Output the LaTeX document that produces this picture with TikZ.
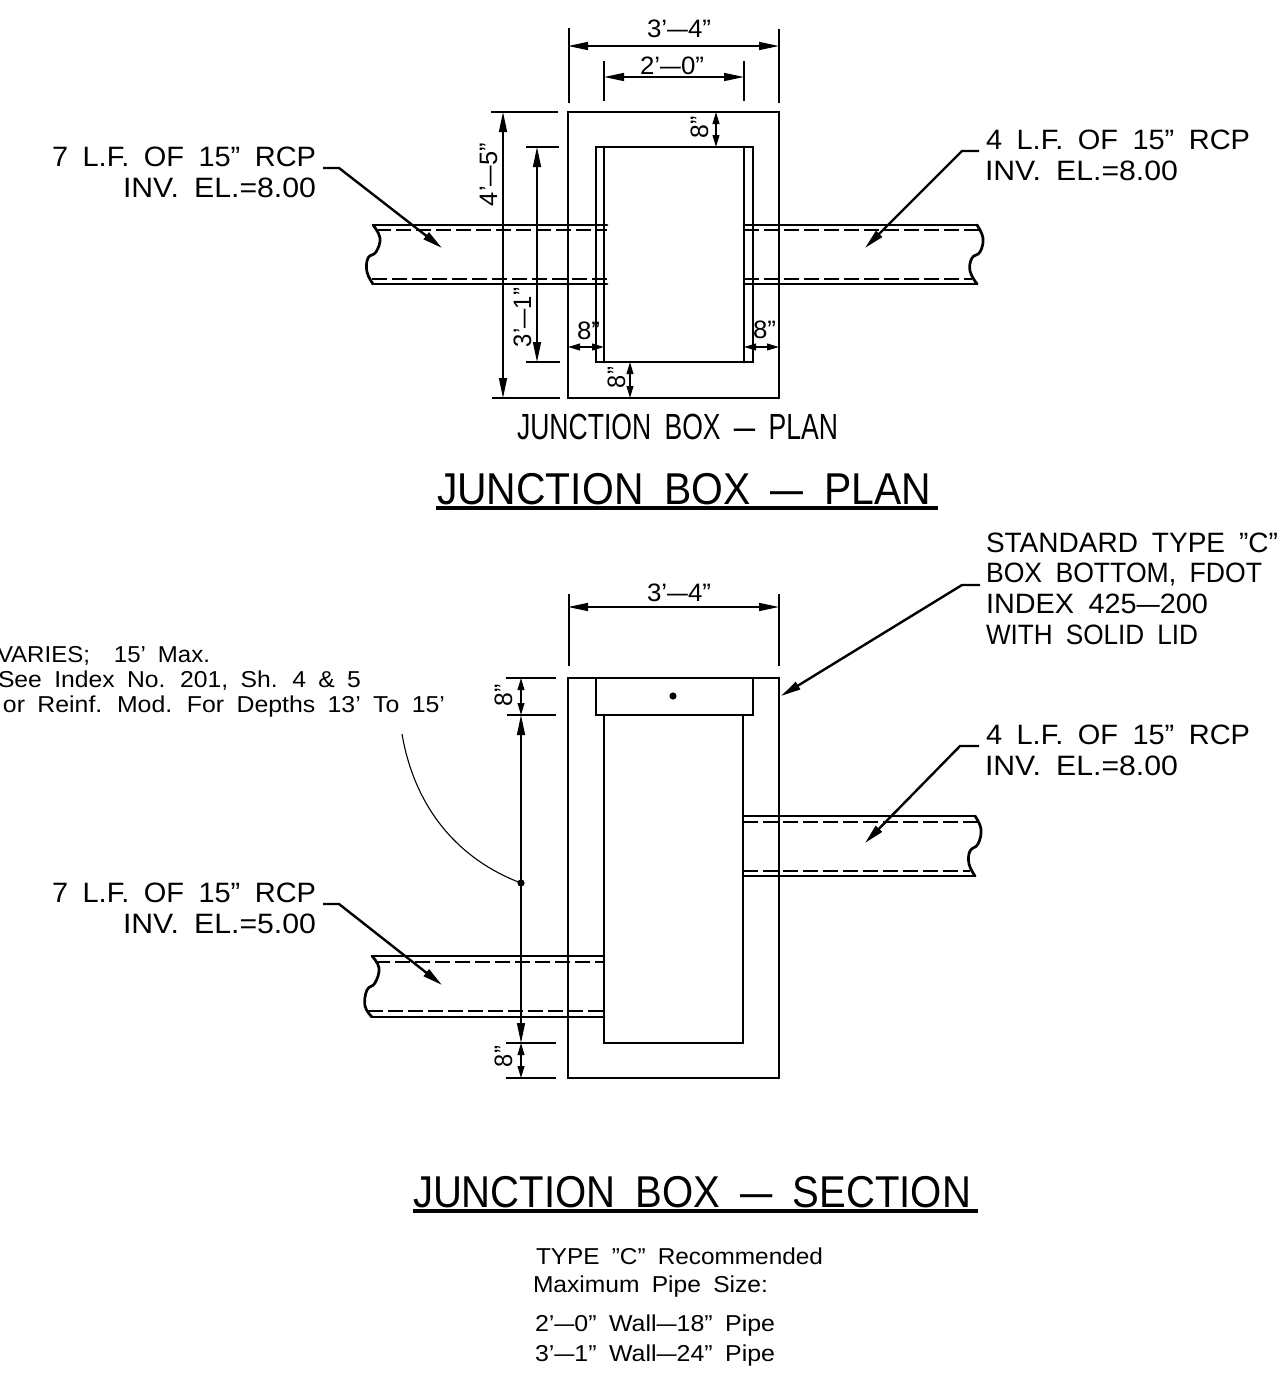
\documentclass[tikz,border=0pt]{standalone}
\usepackage{graphicx}
\usepackage{fontspec}
\setmainfont{Liberation Sans}
\usetikzlibrary{arrows.meta}
\newdimen\pxu \pxu=0.5pt
\newcommand\dsh{\scalebox{1.45}[1]{–}}
\newcommand\lbl[7][0]{\node[lab,rotate=#1] (#2) at (#3,#4) {\fontsize{#6}{#6}\selectfont\resizebox{#5\pxu}{\height}{\spaceskip=0.5em\relax #7}};}
\tikzset{
  lab/.style={anchor=base west,inner sep=0pt,outer sep=0pt},
  thick line/.style={line width=1.35pt,line cap=round,line join=miter},
  thin line/.style={line width=0.7pt},
  hidden/.style={line width=1.35pt,dash pattern=on 7.5pt off 2.5pt},
  dimbig/.style={thin line,{Triangle[length=10pt,width=4pt]}-{Triangle[length=10pt,width=4pt]}},
  dimsmall/.style={thin line,{Triangle[length=6pt,width=3.4pt]}-{Triangle[length=6pt,width=3.4pt]}},
  leader/.style={line width=1.2pt,-{Triangle[length=10pt,width=4.2pt]}},
  blob/.style={circle,fill=black,inner sep=0pt,minimum size=3.6pt},
}
\begin{document}
\begin{tikzpicture}[x=0.5pt,y=-0.5pt]
\useasboundingbox (0,0) rectangle (1281,1383);
\fill[white] (0,0) rectangle (1281,1383);

% ---------- PLAN ----------
\draw[thick line] (568,112) rectangle (779,398);
\draw[thick line] (596,147) rectangle (753,362);
\draw[thick line] (604,147) -- (604,362);
\draw[thick line] (744,147) -- (744,362);
% pipes
\draw[thick line] (373,225) -- (607,225);
\draw[thick line] (373,284) -- (607,284);
\draw[hidden] (376,230) -- (607,230);
\draw[hidden] (372,279) -- (607,279);
\draw[thick line] plot[smooth,tension=.7] coordinates {(373,225) (380,238) (376,252) (368,258) (367,272) (373,284)};
\draw[thick line] (744,225) -- (977,225);
\draw[thick line] (744,284) -- (977,284);
\draw[hidden] (744,230) -- (981,230);
\draw[hidden] (744,279) -- (972,279);
\draw[thick line] plot[smooth,tension=.7] coordinates {(977,225) (983,238) (980,252) (972,258) (970,271) (977,284)};
% extension lines
\draw[thin line] (569,28) -- (569,103);
\draw[thin line] (779,29) -- (779,103);
\draw[thin line] (604,61) -- (604,101);
\draw[thin line] (744,61) -- (744,101);
\draw[thin line] (491,112) -- (558,112);
\draw[thin line] (492,398) -- (560,398);
\draw[thin line] (526,147) -- (559,147);
\draw[thin line] (526,362) -- (560,362);
% dimensions
\draw[dimbig] (568,46) -- (779,46);
\draw[dimbig] (604,77) -- (744,77);
\draw[dimbig] (503,112) -- (503,398);
\draw[dimbig] (537,147) -- (537,362);
\draw[dimsmall] (716,112) -- (716,147);
\draw[dimsmall] (630,362) -- (630,398);
\draw[dimsmall] (568,347) -- (604,347);
\draw[dimsmall] (744,347) -- (779,347);
\lbl{d1}{647}{37}{64}{12.6}{3’\dsh 4”}
\lbl{d2}{640}{74}{64}{12.6}{2’\dsh 0”}
\lbl[90]{d3}{497}{206}{63}{12.6}{4’\dsh 5”}
\lbl[90]{d4}{531}{347}{59}{12.6}{3’\dsh 1”}
\lbl[90]{d5}{708}{138}{22}{12.6}{8”}
\lbl[90]{d6}{625}{388}{21}{12.6}{8”}
\lbl{d7}{577}{339}{23}{12.6}{8”}
\lbl{d8}{753}{338}{23}{12.6}{8”}
% labels and leaders
\lbl{a1}{52}{166}{264}{14}{7 L.F. OF 15” RCP}
\lbl{a2}{123}{197}{193}{14}{INV. EL.=8.00}
\lbl{b1}{986}{149}{264}{14}{4 L.F. OF 15” RCP}
\lbl{b2}{985}{180}{193}{14}{INV. EL.=8.00}
\coordinate (a0) at (323,168);
\coordinate (a3) at (339,168);
\coordinate (a4) at (442,248);
\coordinate (b0) at (979,151);
\coordinate (b3) at (962,151);
\coordinate (b4) at (865,248);
\draw[leader] (a0) -- (a3) -- (a4);
\draw[leader] (b0) -- (b3) -- (b4);
\lbl{t1}{517}{439}{321}{18.2}{JUNCTION BOX \dsh\ PLAN}
\lbl{t2}{437}{504}{494}{22.3}{JUNCTION BOX \dsh\ PLAN}
\draw[line width=1.8pt] (436,508) -- (938,508);

% ---------- SECTION ----------
\draw[thick line] (568,678) rectangle (779,1078);
\draw[thick line] (596,678) rectangle (753,715);
\draw[thick line] (604,715) -- (604,1043) -- (743,1043) -- (743,715);
\node[blob] (s1) at (673,696) {};
% pipes
\draw[thick line] (372,956) -- (604,956);
\draw[thick line] (372,1017) -- (604,1017);
\draw[hidden] (375,962) -- (604,962);
\draw[hidden] (368,1011) -- (604,1011);
\draw[thick line] plot[smooth,tension=.7] coordinates {(372,956) (379,968) (375,983) (367,990) (365,1006) (372,1017)};
\draw[thick line] (743,816) -- (975,816);
\draw[thick line] (743,876) -- (975,876);
\draw[hidden] (743,822) -- (979,822);
\draw[hidden] (743,871) -- (970,871);
\draw[thick line] plot[smooth,tension=.7] coordinates {(975,816) (981,829) (978,844) (970,851) (969,864) (975,876)};
% extension lines
\draw[thin line] (569,594) -- (569,666);
\draw[thin line] (779,594) -- (779,666);
\draw[thin line] (506,678) -- (556,678);
\draw[thin line] (507,715) -- (556,715);
\draw[thin line] (506,1043) -- (556,1043);
\draw[thin line] (506,1078) -- (556,1078);
% dimensions
\draw[dimbig] (568,607) -- (779,607);
\draw[dimsmall] (521,678) -- (521,715);
\draw[dimbig] (521,715) -- (521,1043);
\draw[dimsmall] (521,1043) -- (521,1078);
\lbl{d9}{647}{601}{64}{12.6}{3’\dsh 4”}
\lbl[90]{d10}{512}{706}{22}{12.6}{8”}
\lbl[90]{d11}{512}{1067}{21}{12.6}{8”}
% arc note
\node[blob] (s2) at (521,883) {};
\coordinate (n0) at (402,734);
\draw[line width=0.55pt] (n0) .. controls (415,810) and (460,860) .. (s2.center);
\lbl{n1}{-3}{662}{213}{11.5}{VARIES; \ 15’ Max.}
\lbl{n2}{-2}{687}{363}{11.5}{See Index No. 201, Sh. 4 \& 5}
\lbl{n3}{3}{712}{442}{11.5}{or Reinf. Mod. For Depths 13’ To 15’}
% labels and leaders
\lbl{c1}{52}{902}{264}{14}{7 L.F. OF 15” RCP}
\lbl{c2}{123}{933}{193}{14}{INV. EL.=5.00}
\lbl{e1}{986}{744}{264}{14}{4 L.F. OF 15” RCP}
\lbl{e2}{985}{775}{193}{14}{INV. EL.=8.00}
\coordinate (c0) at (323,904);
\coordinate (c3) at (339,904);
\coordinate (c4) at (442,985);
\coordinate (e0) at (979,746);
\coordinate (e3) at (960,746);
\coordinate (e4) at (865,843);
\draw[leader] (c0) -- (c3) -- (c4);
\draw[leader] (e0) -- (e3) -- (e4);
\lbl{f1}{986}{552}{292}{14}{STANDARD TYPE ”C”}
\lbl{f2}{986}{582}{276}{14}{BOX BOTTOM, FDOT}
\lbl{f3}{986}{613}{222}{14}{INDEX 425\dsh 200}
\lbl{f4}{986}{644}{212}{14}{WITH SOLID LID}
\coordinate (f0) at (980,585);
\coordinate (f5) at (962,585);
\coordinate (f6) at (781,696);
\draw[leader] (f0) -- (f5) -- (f6);
\lbl{t3}{413}{1207}{558}{22.3}{JUNCTION BOX \dsh\ SECTION}
\draw[line width=1.8pt] (413,1211) -- (978,1211);
\lbl{g1}{536}{1264}{287}{11.5}{TYPE ”C” Recommended}
\lbl{g2}{533}{1292}{235}{11.5}{Maximum Pipe Size:}
\lbl{g3}{535}{1331}{240}{11.5}{2’\dsh 0” Wall\dsh 18” Pipe}
\lbl{g4}{535}{1361}{240}{11.5}{3’\dsh 1” Wall\dsh 24” Pipe}
\end{tikzpicture}
\end{document}
